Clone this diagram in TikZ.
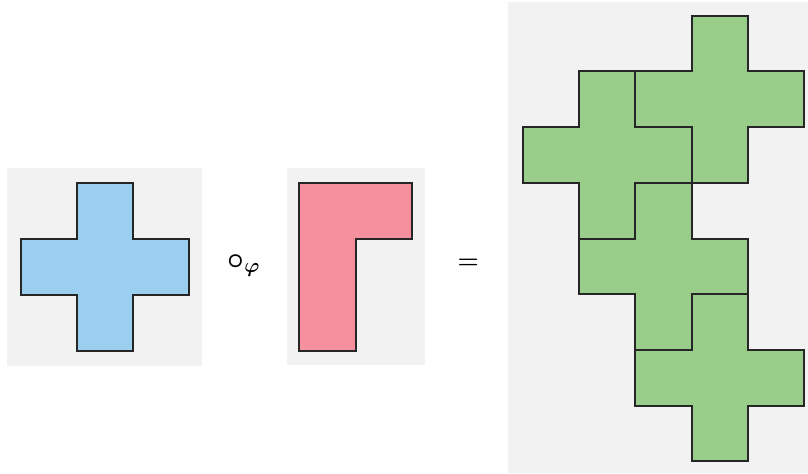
\documentclass[tikz,border=0pt]{standalone}
\usepackage{amsmath}
\usepackage{bm}
\definecolor{panelgray}{RGB}{242,242,242}
\definecolor{crossblue}{RGB}{155,207,240}
\definecolor{lpink}{RGB}{246,143,158}
\definecolor{tilegreen}{RGB}{152,205,138}
\tikzset{
  panel/.style={fill=panelgray, draw=none},
  tile/.style={draw=black!85, line width=1.4pt, line join=miter},
  opsign/.style={inner sep=0pt, font=\fontsize{20}{24}\selectfont},
  plusshape/.pic={
    \path[pic actions] (1,0) -- (2,0) -- (2,1) -- (3,1) -- (3,2) -- (2,2)
      -- (2,3) -- (1,3) -- (1,2) -- (0,2) -- (0,1) -- (1,1) -- cycle;
  }
}
\begin{document}
\begin{tikzpicture}[x=0.025cm, y=-0.025cm]
  \useasboundingbox[fill=white] (0,0) rectangle (808,473);

  % grey panels behind the three shapes
  \fill[panel] (6.7,168.3) rectangle (201.7,365.7);
  \fill[panel] (287.3,168.3) rectangle (425,364.5);
  \fill[panel] (507.7,1.7) rectangle (808,473);

  % the plus-shaped tile
  \begin{scope}[shift={(20.7,183.3)}, x=1.405cm, y=-1.395cm]
    \pic[tile, fill=crossblue] at (0,0) {plusshape};
  \end{scope}

  % the L-shaped pattern
  \draw[tile, fill=lpink] (299,182.7) -- (411.7,182.7) -- (411.7,239)
    -- (355.7,239) -- (355.7,350.7) -- (299,350.7) -- cycle;

  % composition result: four plus tiles placed along the L
  \begin{scope}[shift={(522.7,15.7)}, x=1.4075cm, y=-1.3925cm]
    \pic[tile, fill=tilegreen] at (2,0) {plusshape};
    \pic[tile, fill=tilegreen] at (0,1) {plusshape};
    \pic[tile, fill=tilegreen] at (1,3) {plusshape};
    \pic[tile, fill=tilegreen] at (2,5) {plusshape};
  \end{scope}

  % operators
  \node[opsign] (op) at (244,265.5) {$\bm{\circ}_{\bm{\varphi}}$};
  \node[opsign, font=\fontsize{17}{20}\selectfont] (eq) at (468.3,264) {$\bm{=}$};
\end{tikzpicture}
\end{document}
